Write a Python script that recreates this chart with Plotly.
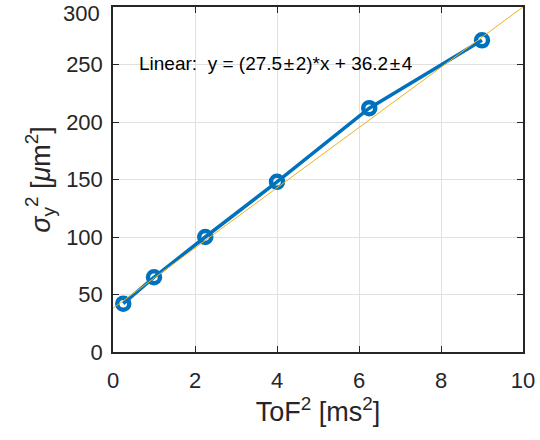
import plotly.graph_objects as go

tof2 = [0.25, 1, 2.25, 4, 6.25, 9]
sigma2 = [42, 65, 100, 148, 212, 271]
fit_x = [0, 10]
fit_y = [38, 300]
x_ticks = [0, 2, 4, 6, 8, 10]
y_ticks = [0, 50, 100, 150, 200, 250, 300]
y_ticklabels = ["0", "50", "100", "150", "200", "250", ""]
y_top_label = "300"
fit_text = "Linear:  y = (27.5\u200a±\u200a2)*x + 36.2\u200a±\u200a4"

FONT = "Liberation Sans, Arial"

fig = go.Figure()
fig.add_trace(go.Scatter(x=tof2, y=sigma2, mode="lines+markers",
                         line=dict(color="#0072BD", width=3.5),
                         marker=dict(symbol="circle-open", size=12, color="#0072BD",
                                     line=dict(width=4.5, color="#0072BD")),
                         showlegend=False, cliponaxis=False))
fig.add_trace(go.Scatter(x=fit_x, y=fit_y, mode="lines",
                         line=dict(color="#EDB120", width=1),
                         showlegend=False))

fig.add_annotation(x=0.058, y=0.836, xref="paper", yref="paper", xanchor="left", yanchor="middle",
                   text=fit_text, showarrow=False,
                   font=dict(size=19, color="#000000", family=FONT))
fig.add_annotation(x=0, y=1, xref="paper", yref="paper", xanchor="right", yanchor="middle",
                   xshift=-11, yshift=-6, text=y_top_label, showarrow=False,
                   font=dict(size=22, color="#262626", family=FONT))

axis_common = dict(showline=True, linecolor="#262626", linewidth=1.5, mirror="ticks",
                   ticks="inside", ticklen=6, tickcolor="#262626", tickwidth=1,
                   showgrid=True, gridcolor="#E0E0E0", gridwidth=1, zeroline=False,
                   tickfont=dict(size=22, color="#262626", family=FONT))

fig.update_xaxes(range=[0, 10.0001], tickvals=x_ticks, ticktext=[str(v) for v in x_ticks],
                 ticklabelstandoff=8,
                 title=dict(text="ToF<sup>2</sup> [ms<sup>2</sup>]", standoff=8,
                            font=dict(size=27, color="#262626", family=FONT)),
                 **axis_common)
fig.update_yaxes(range=[-0.01, 300.01], tickvals=y_ticks, ticktext=y_ticklabels,
                 ticklabelstandoff=4,
                 title=dict(text="<i>σ</i><sub>y</sub><sup>2</sup> [<i>μ</i>m<sup>2</sup>]", standoff=8,
                            font=dict(size=27, color="#262626", family=FONT)),
                 **axis_common)

fig.update_layout(width=540, height=440, margin=dict(l=113, r=14, t=5, b=88),
                  paper_bgcolor="white", plot_bgcolor="white")

fig.write_html("out.html")
